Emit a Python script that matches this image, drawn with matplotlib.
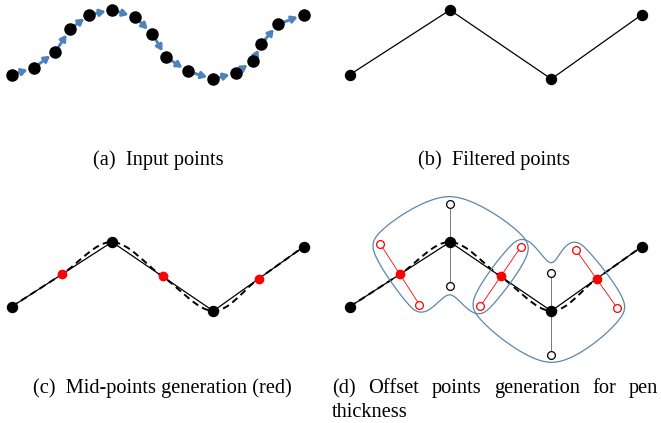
import numpy as np
import matplotlib
matplotlib.use('Agg')
import matplotlib.pyplot as plt
from matplotlib.path import Path
from matplotlib.patches import PathPatch

# ---------------- data (pixel coordinates of panel (a)) ----------------
in_x = [11.7, 33.7, 55.3, 70.0, 89.3, 112.0, 134.7, 152.3, 165.7, 187.7,
        213.3, 235.7, 252.7, 261.3, 278.0, 303.7]
in_y = [74.7, 68.0, 52.0, 29.3, 14.7, 10.0, 16.7, 33.7, 56.7, 71.3,
        79.0, 73.0, 61.3, 44.0, 24.3, 14.7]
filtered_idx = [0, 5, 10, 15]
panel_dx = [0, 338, 0, 338]
panel_dy = [0, 0, 232, 232]
pen_offset = 36      # distance of red offset points from mid-points
vertex_up = 38       # offset of open circles above vertices
vertex_down = 44     # offset of open circles below vertices
blob_pad = 7.5

captions = ["(a)  Input points", "(b)  Filtered points",
            "(c)  Mid-points generation (red)"]
caption_x = [158, 494, 162]
caption_y = [165, 165, 393]
caption_d_line1 = ["(d)", "Offset", "points", "generation", "for", "pen"]
caption_d_line2 = "thickness"

BLUE = '#4f81bd'
BLOB = '#5b87ad'
FONT = 'Liberation Serif'
FS = 14.7

W, H = 661, 423
fig = plt.figure(figsize=(W / 100, H / 100), dpi=100)
ax = fig.add_axes([0, 0, 1, 1])
ax.set_xlim(0, W)
ax.set_ylim(H, 0)
ax.axis('off')

xa = np.array(in_x)
ya = np.array(in_y)
fx = xa[filtered_idx]
fy = ya[filtered_idx]


def catmull_path(P):
    P = np.asarray(P, dtype=float)
    m = len(P)
    ext = np.vstack([2 * P[0] - P[1], P, 2 * P[-1] - P[-2]])
    verts = [P[0]]
    codes = [Path.MOVETO]
    for i in range(m - 1):
        p0, p1, p2, p3 = ext[i], ext[i + 1], ext[i + 2], ext[i + 3]
        c1 = p1 + (p2 - p0) / 6
        c2 = p2 - (p3 - p1) / 6
        verts += [c1, c2, p2]
        codes += [Path.CURVE4] * 3
    return Path(verts, codes)


def closed_smooth(pts, tens, n=30):
    P = np.asarray(pts, dtype=float)
    m = len(P)
    out = []
    t = np.linspace(0, 1, n, endpoint=False)[:, None]
    h00 = 2 * t ** 3 - 3 * t ** 2 + 1
    h10 = t ** 3 - 2 * t ** 2 + t
    h01 = -2 * t ** 3 + 3 * t ** 2
    h11 = t ** 3 - t ** 2
    for i in range(m):
        j = (i + 1) % m
        p0, p1, p2, p3 = P[(i - 1) % m], P[i], P[j], P[(i + 2) % m]
        m1 = tens[i] * (p2 - p0) / 2
        m2 = tens[j] * (p3 - p1) / 2
        out.append(h00 * p1 + h10 * m1 + h01 * p2 + h11 * m2)
    return np.vstack(out)


def blur(F, s):
    k = np.arange(-int(3 * s), int(3 * s) + 1)
    g = np.exp(-0.5 * (k / s) ** 2)
    g /= g.sum()
    n = len(k) // 2
    Fp = np.pad(F, n, mode='edge')
    Fp = np.apply_along_axis(lambda v: np.convolve(v, g, mode='valid'), 0, Fp)
    Fp = np.apply_along_axis(lambda v: np.convolve(v, g, mode='valid'), 1, Fp)
    return Fp


def region_distance(R, X, Y):
    P = np.column_stack([X.ravel(), Y.ravel()])
    d2 = np.full(len(P), np.inf)
    for i in range(len(R)):
        a, b = R[i], R[(i + 1) % len(R)]
        ab = b - a
        t = np.clip(((P - a) @ ab) / (ab @ ab), 0, 1)
        q = a + t[:, None] * ab
        d2 = np.minimum(d2, np.sum((P - q) ** 2, axis=1))
    d = np.sqrt(d2)
    inside = Path(np.vstack([R, R[:1]]), closed=True).contains_points(P)
    d[inside] = 0
    return d.reshape(X.shape)


# ---------------- panel (a) ----------------
dx, dy = panel_dx[0], panel_dy[0]
for i in range(len(xa) - 1):
    ax.annotate('', xy=(xa[i + 1] + dx, ya[i + 1] + dy),
                xytext=(xa[i] + dx, ya[i] + dy),
                arrowprops=dict(arrowstyle='-|>,head_length=0.34,head_width=0.2',
                                color=BLUE, lw=2.1, shrinkA=4.2, shrinkB=4.6))
ax.plot(xa + dx, ya + dy, 'o', color='black', ms=8, zorder=4)

# ---------------- panel (b) ----------------
dx, dy = panel_dx[1], panel_dy[1]
ax.plot(fx + dx, fy + dy, '-', color='black', lw=0.9)
ax.plot(fx + dx, fy + dy, 'o', color='black', ms=7.2, zorder=4)

# ---------------- mid points ----------------
mx = (fx[:-1] + fx[1:]) / 2
my = (fy[:-1] + fy[1:]) / 2
seg = np.column_stack([fx[1:] - fx[:-1], fy[1:] - fy[:-1]])
seg /= np.linalg.norm(seg, axis=1)[:, None]
nrm_seg = np.column_stack([-seg[:, 1], seg[:, 0]])  # points "down" on screen


def smooth_points(px, py, qx, qy):
    pts = []
    for k in range(len(px)):
        pts.append((px[k], py[k]))
        if k < len(qx):
            pts.append((qx[k], qy[k]))
    return pts


# ---------------- panel (c) ----------------
dx, dy = panel_dx[2], panel_dy[2]
ax.plot(fx + dx, fy + dy, '-', color='black', lw=0.9)
ax.add_patch(PathPatch(catmull_path(smooth_points(fx + dx, fy + dy, mx + dx, my + dy)),
                       fill=False, color='black', lw=1.4, linestyle=(0, (3.5, 2.2))))
ax.plot(fx + dx, fy + dy, 'o', color='black', ms=7.2, zorder=4)
ax.plot(mx + dx, my + dy, 'o', color='red', ms=6, zorder=4)

# ---------------- panel (d) ----------------
dx, dy = panel_dx[3], panel_dy[3]
px, py = fx + dx, fy + dy
qx, qy = mx + dx, my + dy
ax.plot(px, py, '-', color='black', lw=0.9)
ax.add_patch(PathPatch(catmull_path(smooth_points(px, py, qx, qy)),
                       fill=False, color='black', lw=1.4, linestyle=(0, (3.5, 2.2))))

up = np.column_stack([qx - nrm_seg[:, 0] * pen_offset, qy - nrm_seg[:, 1] * pen_offset])
dn = np.column_stack([qx + nrm_seg[:, 0] * pen_offset, qy + nrm_seg[:, 1] * pen_offset])
vx = px[1:-1]
vy = py[1:-1]
vup = np.column_stack([vx, vy - vertex_up])
vdn = np.column_stack([vx, vy + vertex_down])

for k in range(len(qx)):
    ax.plot([up[k, 0], dn[k, 0]], [up[k, 1], dn[k, 1]], '-', color='red', lw=0.6)
for k in range(len(vx)):
    ax.plot([vup[k, 0], vdn[k, 0]], [vup[k, 1], vdn[k, 1]], '-', color='#777777', lw=0.7)

gx = np.arange(330, 661, 1.0)
gy = np.arange(180, 380, 1.0)
GX, GY = np.meshgrid(gx, gy)
ring_tension = [0.55, 1.0, 0.55, 0.55, 1.0, 0.55]
for k in range(len(vx)):
    ring = [up[k], vup[k], up[k + 1], dn[k + 1], vdn[k], dn[k]]
    R = closed_smooth(ring, ring_tension)
    F = blur(region_distance(R, GX, GY), 3.0)
    ax.contour(GX, GY, F, levels=[blob_pad], colors=BLOB, linewidths=0.9)

ax.plot(np.r_[up[:, 0], dn[:, 0]], np.r_[up[:, 1], dn[:, 1]], 'o', mfc='white',
        mec='red', mew=0.9, ms=5.6, zorder=4)
ax.plot(np.r_[vup[:, 0], vdn[:, 0]], np.r_[vup[:, 1], vdn[:, 1]], 'o', mfc='white',
        mec='black', mew=0.9, ms=5.6, zorder=4)
ax.plot(px, py, 'o', color='black', ms=7.2, zorder=5)
ax.plot(qx, qy, 'o', color='red', ms=6, zorder=5)

ax.set_xlim(0, W)
ax.set_ylim(H, 0)

# ---------------- captions ----------------
for txt, x, y in zip(captions, caption_x, caption_y):
    ax.text(x, y, txt, ha='center', va='baseline', fontsize=FS, family=FONT)

left, right, base1, base2 = 332, 658, 393, 417
fig.canvas.draw()
rend = fig.canvas.get_renderer()
words = [ax.text(0, base1, w, ha='left', va='baseline', fontsize=FS, family=FONT)
         for w in caption_d_line1]
widths = [t.get_window_extent(rend).width for t in words]
gap = (right - left - sum(widths)) / (len(words) - 1)
xpos = left
for t, w in zip(words, widths):
    t.set_x(xpos)
    xpos += w + gap
ax.text(left, base2, caption_d_line2, ha='left', va='baseline', fontsize=FS, family=FONT)

fig.savefig('out.png', dpi=100)
